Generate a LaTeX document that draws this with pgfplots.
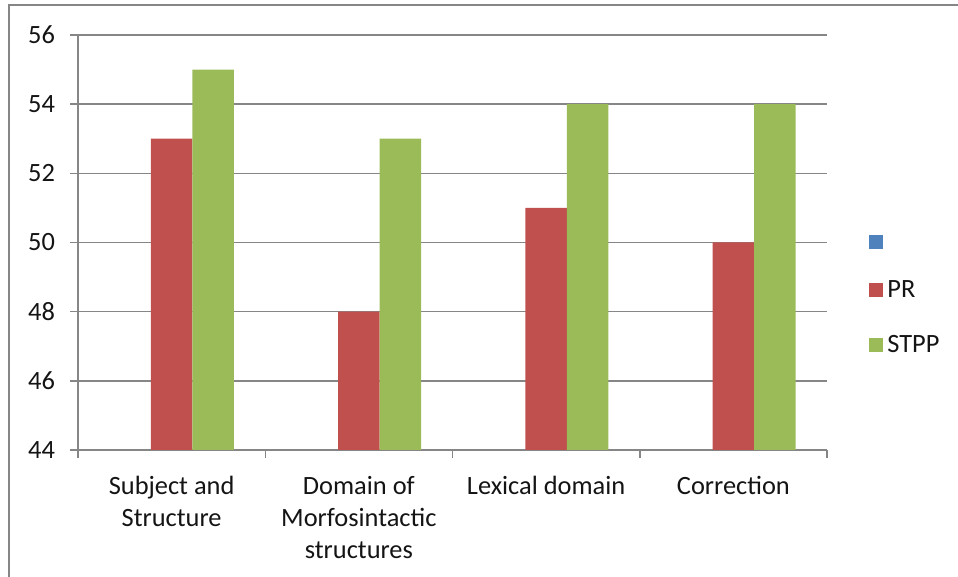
\documentclass[border=0pt]{standalone}
\usepackage{pgfplots}
\pgfplotsset{compat=1.18}
\usepackage{fontspec}
\setmainfont{Carlito}
\definecolor{xred}{RGB}{192,80,77}
\definecolor{xgreen}{RGB}{155,187,89}
\definecolor{xblue}{RGB}{79,129,189}
\definecolor{xgrid}{RGB}{134,134,134}
\definecolor{xtext}{RGB}{20,20,20}
\begin{document}
\begin{tikzpicture}
\useasboundingbox (-39pt,-63.5pt) rectangle (440pt,225pt);
\draw[xgrid, line width=1.25pt] (-34.5pt,-70pt) -- (-34.5pt,222.5pt) -- (450pt,222.5pt);
\begin{axis}[
  at={(0,0)}, anchor=south west,
  scale only axis,
  width=374.5pt, height=207.5pt,
  xmin=-0.5, xmax=3.5,
  ymin=44, ymax=56,
  ytick={44,46,48,50,52,54,56},
  xtick={0,1,2,3},
  xticklabels={Subject and\\Structure, Domain of\\Morfosintactic\\structures, Lexical domain, Correction},
  minor xtick={-0.5,0.5,1.5,2.5,3.5},
  major x tick style={draw=none},
  tick align=outside,
  major tick length=4pt,
  minor tick length=4pt,
  tick style={xgrid, line width=0.75pt},
  axis x line*=bottom,
  axis y line*=left,
  axis line style={xgrid, line width=0.75pt, -},
  ymajorgrids,
  grid style={xgrid, line width=0.75pt},
  /pgf/number format/assume math mode=true,
  font=\fontsize{13.2}{16}\selectfont,
  ticklabel style={text=xtext},
  xticklabel style={align=center, anchor=north, yshift=-5.5pt, font=\fontsize{13.2}{16}\selectfont},
  yticklabel style={xshift=-4pt, font=\fontsize{13.2}{16}\selectfont},
  bar width=0.2217,
  area legend,
  legend image code/.code={\fill[#1] (0pt,-3.5pt) rectangle (7pt,3.5pt);},
  legend style={at={(rel axis cs:1.056,0.368)}, anchor=west, draw=none, fill=none,
    inner sep=0pt, row sep=13.5pt, cells={anchor=west}, font=\fontsize{13.2}{16}\selectfont,
    nodes={text=xtext}},
]
\addlegendimage{fill=xblue, draw=none}
\addlegendentry{}
\addplot[ybar, fill=xred, draw=none, bar shift=0] coordinates {(0,53) (1,48) (2,51) (3,50)};
\addlegendentry{PR}
\addplot[ybar, fill=xgreen, draw=none, bar shift=0.2217] coordinates {(0,55) (1,53) (2,54) (3,54)};
\addlegendentry{STPP}
\end{axis}
\end{tikzpicture}
\end{document}
